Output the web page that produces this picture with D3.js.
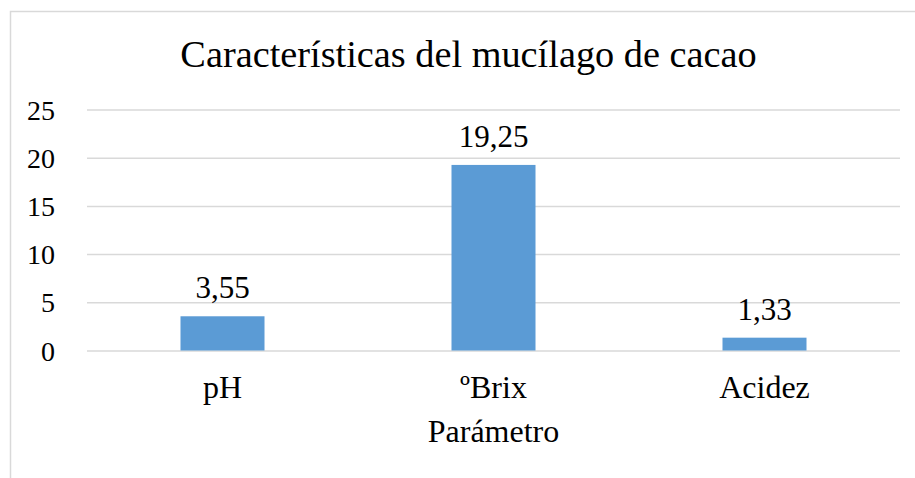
<!DOCTYPE html>
<html><head><meta charset="utf-8">
<script src="https://cdn.jsdelivr.net/npm/d3@7"></script>
<style>body{margin:0;background:#fff}svg{display:block}svg text{font-family:"Liberation Serif","Times New Roman",serif !important;fill:#000}</style>
</head><body>
<script>
const categories = ["pH", "ºBrix", "Acidez"];
const values = [3.55, 19.25, 1.33];
const valueLabels = ["3,55", "19,25", "1,33"];
const yTicks = [0, 5, 10, 15, 20, 25];
const title = "Características del mucílago de cacao";
const xTitle = "Parámetro";

const W = 915, H = 478;
const svg = d3.select("body").append("svg").attr("width", W).attr("height", H);
svg.append("rect").attr("x", 10.5).attr("y", 11.5).attr("width", 1000).attr("height", 1000)
  .attr("fill", "#fff").attr("stroke", "#d9d9d9").attr("stroke-width", 1.5);

const plot = {left: 87, right: 900, top: 109.5, bottom: 350.5};
const x = d3.scaleBand().domain(categories).range([plot.left, plot.right]).paddingInner(0.69).paddingOuter(0.345);
const y = d3.scaleLinear().domain([0, 25]).range([plot.bottom, plot.top]);

svg.append("text").attr("x", 468.5).attr("y", 67).attr("text-anchor", "middle")
  .attr("font-size", 38.3).text(title);

const gy = svg.append("g").attr("transform", `translate(${plot.left},0)`)
  .call(d3.axisLeft(y).tickValues(yTicks).tickSize(-(plot.right - plot.left)).tickPadding(32));
gy.select(".domain").remove();
gy.selectAll(".tick line").attr("stroke", "#d9d9d9").attr("stroke-width", 1.5);
gy.selectAll(".tick text").attr("font-size", 28).attr("dy", "0.34em");

svg.selectAll(".bar").data(values).join("rect").attr("class", "bar")
  .attr("x", (d, i) => x(categories[i])).attr("width", x.bandwidth())
  .attr("y", d => y(d)).attr("height", d => y(0) - y(d)).attr("fill", "#5b9bd5");

svg.selectAll(".vl").data(values).join("text").attr("class", "vl")
  .attr("x", (d, i) => x(categories[i]) + x.bandwidth() / 2).attr("y", d => y(d) - 18)
  .attr("text-anchor", "middle").attr("font-size", 31)
  .text((d, i) => valueLabels[i]);

const gx = svg.append("g").attr("transform", `translate(0,${plot.bottom})`)
  .call(d3.axisBottom(x).tickSize(0).tickPadding(0));
gx.select(".domain").remove();
gx.selectAll(".tick text").attr("font-size", 32).attr("dy", 0).attr("y", 47.5);

svg.append("text").attr("x", (plot.left + plot.right) / 2).attr("y", 441.5).attr("text-anchor", "middle")
  .attr("font-size", 32).text(xTitle);
</script>
</body></html>
